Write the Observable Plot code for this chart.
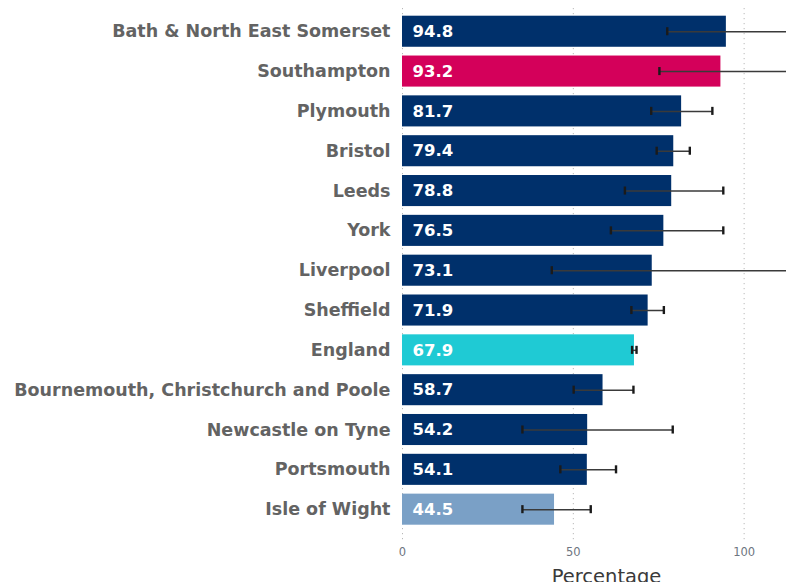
<!DOCTYPE html>
<html>
<head>
<meta charset="utf-8">
<script src="https://cdn.jsdelivr.net/npm/d3@7"></script>
<script src="https://cdn.jsdelivr.net/npm/@observablehq/plot@0.6"></script>
<style>
  html, body { margin: 0; padding: 0; background: #ffffff; }
  #chart { width: 786px; height: 582px; overflow: hidden; }
</style>
</head>
<body>
<div id="chart"></div>
<script>
const areas = [
  "Bath & North East Somerset", "Southampton", "Plymouth", "Bristol", "Leeds",
  "York", "Liverpool", "Sheffield", "England", "Bournemouth, Christchurch and Poole",
  "Newcastle on Tyne", "Portsmouth", "Isle of Wight"
];
const percentages = [94.8, 93.2, 81.7, 79.4, 78.8, 76.5, 73.1, 71.9, 67.9, 58.7, 54.2, 54.1, 44.5];
const lowerCI = [77.5, 75.2, 72.8, 74.4, 65.1, 61.0, 43.7, 67.0, 67.2, 50.1, 35.1, 46.2, 35.1];
const upperCI = [118.0, 116.0, 90.7, 84.1, 93.9, 93.9, 120.0, 76.5, 68.5, 67.6, 79.1, 62.5, 55.1];
const groups = [
  "Comparator", "Southampton", "Comparator", "Comparator", "Comparator",
  "Comparator", "Comparator", "Comparator", "England", "Comparator",
  "Comparator", "Comparator", "Lower"
];
const groupNames = ["Comparator", "Southampton", "England", "Lower"];
const xTicks = [0, 50, 100];
const xLabel = "Percentage";

const data = areas.map((area, i) => ({
  area, value: percentages[i], lower: lowerCI[i], upper: upperCI[i], group: groups[i]
}));

const chart = Plot.plot({
  width: 786,
  height: 582,
  marginLeft: 402,
  marginRight: 0,
  marginTop: 8,
  marginBottom: 41,
  style: { fontFamily: "'DejaVu Sans', sans-serif", background: "#ffffff", overflow: "hidden" },
  x: { domain: [0, 112.4] },
  y: { domain: areas, round: false, paddingInner: 0.22, paddingOuter: 0, insetTop: 7.7, insetBottom: 16.3, label: null },
  color: { domain: groupNames, range: ["#00306b", "#d4005a", "#1fcad4", "#7aa0c6"] },
  marks: [
    Plot.gridX(xTicks, { stroke: "#b8b8b8", strokeOpacity: 1, strokeDasharray: "1.2,3.8", strokeWidth: 1 }),
    Plot.barX(data, { x: "value", y: "area", fill: "group" }),
    Plot.text(data, {
      x: 0, y: "area", text: d => d.value.toFixed(1), textAnchor: "start", dx: 10,
      fill: "white", fontWeight: "bold", fontSize: 16.5
    }),
    Plot.ruleY(data, { x1: "lower", x2: "upper", y: "area", stroke: "#3a3a3a", strokeWidth: 1.5, clip: true }),
    Plot.tickX(data, { x: "lower", y: "area", insetTop: 11.5, insetBottom: 11.5, stroke: "#1a1a1a", strokeWidth: 2.4, clip: true }),
    Plot.tickX(data, { x: "upper", y: "area", insetTop: 11.5, insetBottom: 11.5, stroke: "#1a1a1a", strokeWidth: 2.4, clip: true }),
    Plot.axisY({ tickSize: 0, tickPadding: 12, fontSize: 17.5, fontWeight: "bold", fill: "#636363", label: null }),
    Plot.axisX({ ticks: xTicks, tickSize: 0, tickPadding: 6, fontSize: 11.5, fill: "#6e7580", label: null }),
    Plot.text([xLabel], { frameAnchor: "bottom", text: d => d, dx: 12, dy: 28, lineAnchor: "top", fontSize: 19.5, fill: "#3a3a3a" })
  ]
});
document.getElementById("chart").appendChild(chart);
</script>
</body>
</html>
